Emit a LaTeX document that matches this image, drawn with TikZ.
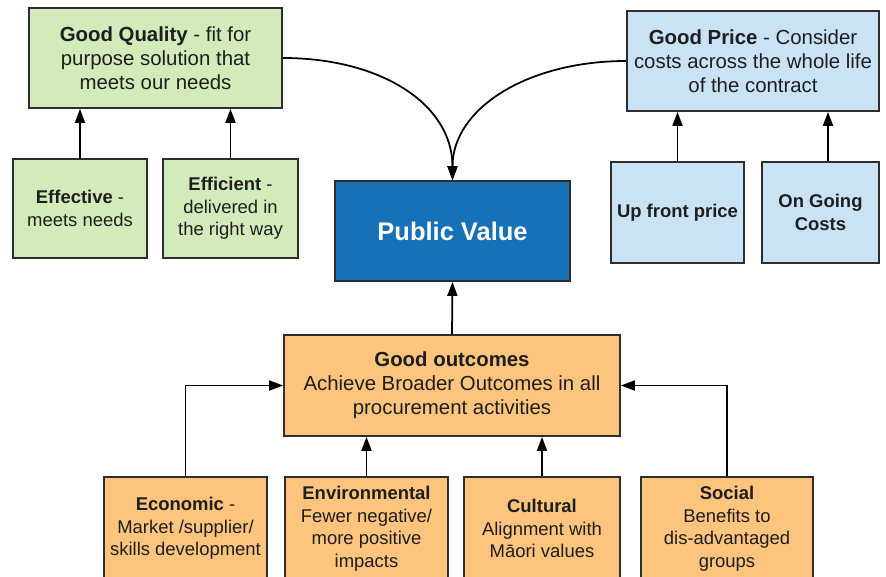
\documentclass[tikz,border=0pt]{standalone}
\usepackage{xcolor}
\usepackage{fontspec}
\setmainfont{Liberation Sans}
\usepackage{tikz}
\usetikzlibrary{arrows.meta}

\definecolor{qualgreen}{HTML}{D3EBBB}
\definecolor{priceblue}{HTML}{C9E3F5}
\definecolor{pvblue}{HTML}{1771B7}
\definecolor{outorange}{HTML}{FDC47D}
\definecolor{boxline}{HTML}{2E2E2E}
\definecolor{textcol}{HTML}{1E1E1E}

\tikzset{
  box/.style={draw=boxline, line width=1pt, inner sep=0pt, align=center,
    text=textcol, font=\fontsize{11.6}{13.6}\selectfont},
  small/.style={font=\fontsize{10.5}{12.8}\selectfont},
  quality/.style={box, fill=qualgreen},
  price/.style={box, fill=priceblue},
  outcome/.style={box, fill=outorange},
  link/.style={line width=1pt, draw=black, -{Triangle[length=2.8mm,width=2mm]}}
}

\begin{document}
\begin{tikzpicture}[x=0.2mm, y=-0.2mm]
\useasboundingbox (0,0) rectangle (886,577);
\clip (0,0) rectangle (886,577);

% top row
\node[quality, minimum width=50.6mm, minimum height=20mm] (gq) at (155.5,58)
  {\textbf{Good Quality} - fit for\\purpose solution that\\meets our needs};
\node[price, minimum width=50.4mm, minimum height=20mm] (gp) at (753,61)
  {\textbf{Good Price} - Consider\\costs across the whole life\\of the contract};

\node[quality, small, minimum width=26.8mm, minimum height=19.8mm] (eff) at (80,208.5)
  {\textbf{Effective} -\\meets needs};
\node[quality, small, minimum width=27mm, minimum height=19.8mm] (effi) at (230.5,208.5)
  {\textbf{Efficient} -\\delivered in\\the right way};
\node[price, small, minimum width=26.6mm, minimum height=20.2mm] (up) at (677.5,212.5)
  {\textbf{Up front price}};
\node[price, small, minimum width=23.4mm, minimum height=20.2mm] (og) at (820.5,212.5)
  {\textbf{On Going}\\\textbf{Costs}};

\node[box, fill=pvblue, text=white, minimum width=47mm, minimum height=20mm,
  font=\fontsize{14.5}{17}\selectfont\bfseries] (pv) at (452.5,231) {Public Value};

% outcomes
\node[outcome, minimum width=67.2mm, minimum height=20.2mm] (go) at (452,385.5)
  {\textbf{Good outcomes}\\Achieve Broader Outcomes in all\\procurement activities};

\node[outcome, small, minimum width=32.6mm, minimum height=20.6mm] (eco) at (185.5,528.5)
  {\textbf{Economic} -\\Market /supplier/\\skills development};
\node[outcome, small, minimum width=32.6mm, minimum height=20.6mm] (env) at (366.5,528.5)
  {\textbf{Environmental}\\Fewer negative/\\more positive\\impacts};
\node[outcome, small, minimum width=31.2mm, minimum height=20.6mm] (cul) at (542,528.5)
  {\textbf{Cultural}\\Alignment with\\Māori values};
\node[outcome, small, minimum width=34.4mm, minimum height=20.6mm] (soc) at (727,528.5)
  {\textbf{Social}\\Benefits to\\dis-advantaged\\groups};

% connectors
\draw[link] (eff.north) -- (eff.north |- gq.south);
\draw[link] (effi.north) -- (effi.north |- gq.south);
\draw[link] (up.north) -- (up.north |- gp.south);
\draw[link] ([xshift=1.5mm]og.north) -- ([xshift=1.5mm]og.north |- gp.south);

\draw[link] (gq.east) .. controls +(98,0) and +(0,-76) .. (pv.north);
\draw[link] (gp.west) .. controls +(-98,0) and +(0,-72) .. (pv.north);

\draw[link] (go.north) -- (pv.south);
\draw[link] (eco.north) |- (go.west);
\draw[link] (soc.north) |- (go.east);
\draw[link] (env.north) -- (env.north |- go.south);
\draw[link] (cul.north) -- (cul.north |- go.south);
\end{tikzpicture}
\end{document}
